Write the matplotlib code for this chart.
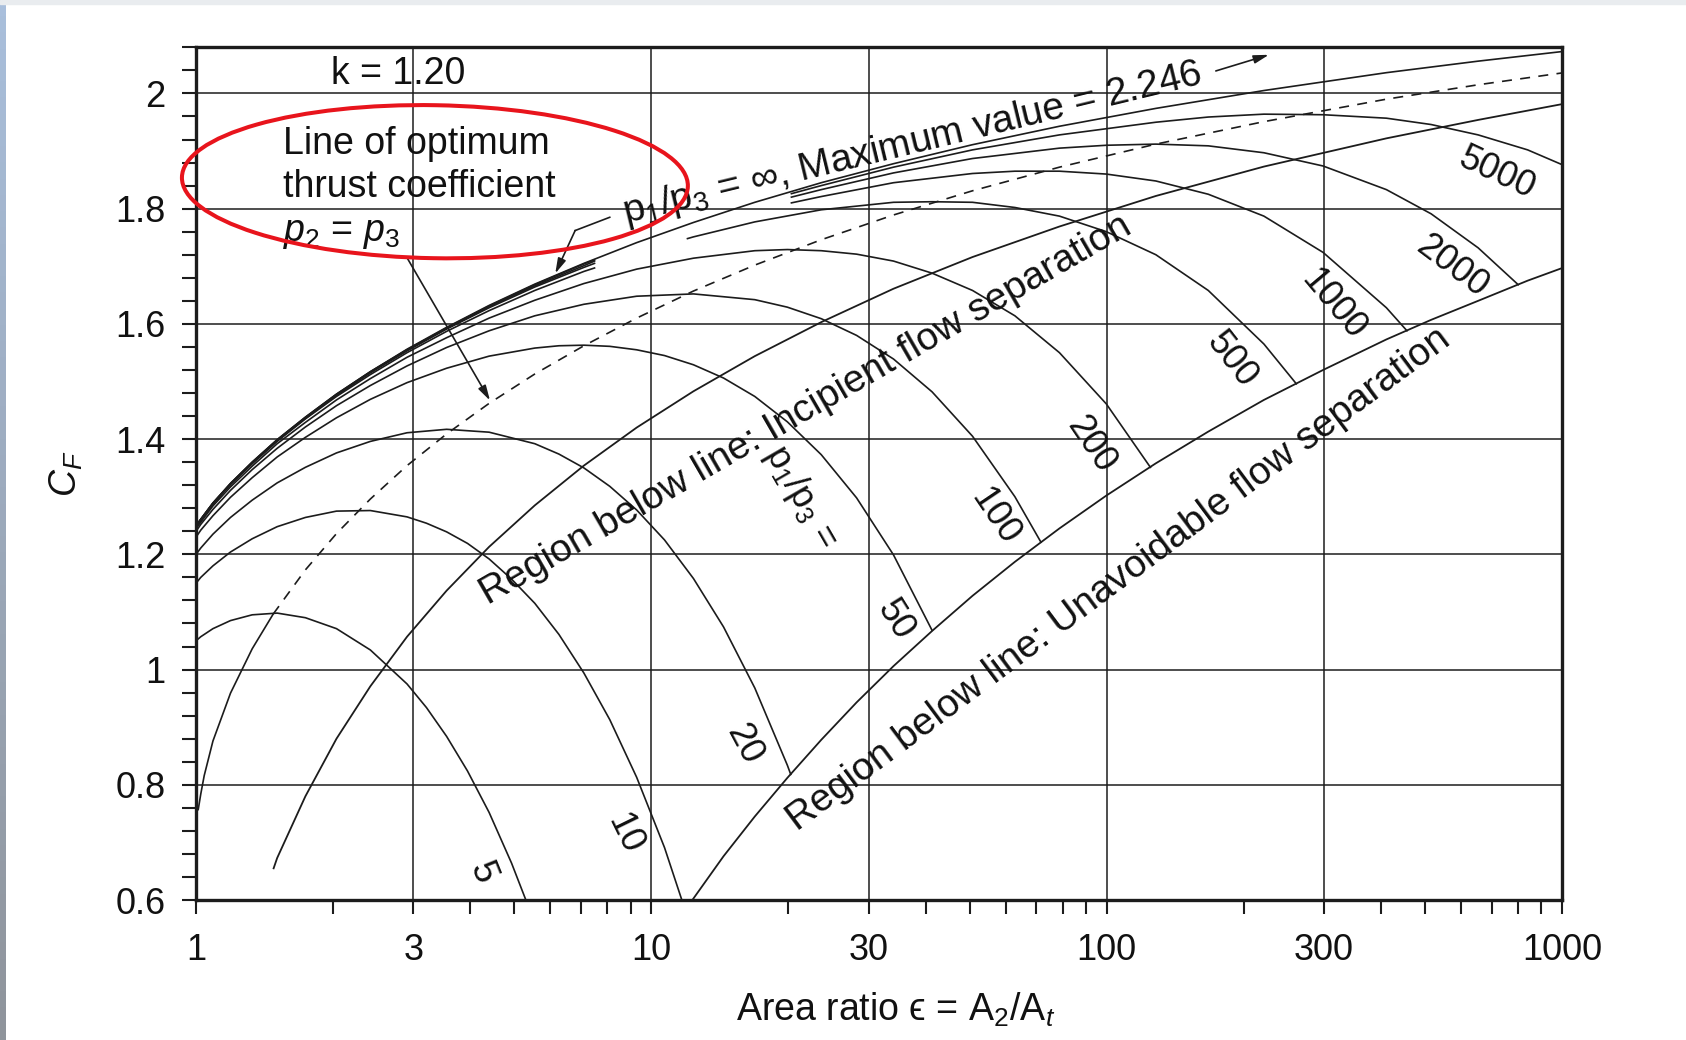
"""Thrust coefficient C_F versus nozzle area ratio for k = 1.20."""

import matplotlib.pyplot as plt
import matplotlib.patches as mpatches
import numpy as np

# (area ratio, C_F) points, one pair of lists per p1/p3
EPS_5 = [1.0, 1.024, 1.089, 1.190, 1.328, 1.507, 1.738, 2.034, 2.414, 2.906,
         3.206, 3.550, 3.945, 4.401, 4.930, 5.545]
CF_5 = [1.050, 1.057, 1.071, 1.085, 1.095, 1.098, 1.090, 1.071, 1.034, 0.975,
        0.934, 0.884, 0.824, 0.752, 0.664, 0.560]

EPS_10 = [1.0, 1.024, 1.089, 1.190, 1.328, 1.507, 1.738, 2.034, 2.414, 2.906,
          3.206, 3.550, 3.945, 4.401, 4.930, 5.545, 6.264, 7.107, 8.102, 9.281,
          10.685, 12.369]
CF_10 = [1.150, 1.160, 1.180, 1.204, 1.227, 1.248, 1.264, 1.275, 1.276, 1.265,
         1.254, 1.239, 1.219, 1.192, 1.157, 1.115, 1.061, 0.994, 0.913, 0.813,
         0.691, 0.539]

EPS_20 = [1.0, 1.024, 1.089, 1.190, 1.328, 1.507, 1.738, 2.034, 2.414, 2.906,
          3.550, 4.401, 5.545, 6.264, 7.107, 8.102, 9.281, 10.685, 12.369,
          14.401, 16.868, 19.885, 20.23]
CF_20 = [1.200, 1.211, 1.235, 1.264, 1.294, 1.324, 1.351, 1.376, 1.396, 1.411,
         1.417, 1.412, 1.392, 1.374, 1.350, 1.318, 1.277, 1.225, 1.158,
         1.074, 0.968, 0.834, 0.818]

EPS_50 = [1.0, 1.024, 1.089, 1.190, 1.328, 1.507, 1.738, 2.034, 2.414, 2.906,
          3.550, 4.401, 5.545, 6.264, 7.107, 8.102, 9.281, 10.685, 12.369,
          14.401, 16.868, 19.885, 23.603, 28.223, 34.015, 41.344]
CF_50 = [1.230, 1.242, 1.267, 1.299, 1.333, 1.369, 1.403, 1.437, 1.469, 1.498,
         1.523, 1.544, 1.558, 1.562, 1.563, 1.561, 1.555, 1.545, 1.529,
         1.506, 1.474, 1.430, 1.373, 1.298, 1.199, 1.068]

EPS_100 = [1.0, 1.024, 1.089, 1.190, 1.328, 1.507, 1.738, 2.034, 2.414, 2.906,
           3.550, 4.401, 5.545, 7.107, 9.281, 12.369, 16.868, 19.885, 23.603,
           28.223, 34.015, 41.344, 50.72, 62.846, 71.7]
CF_100 = [1.240, 1.252, 1.278, 1.311, 1.347, 1.384, 1.421, 1.458, 1.493, 1.527,
          1.559, 1.588, 1.614, 1.634, 1.648, 1.652, 1.642, 1.629, 1.609,
          1.580, 1.539, 1.482, 1.405, 1.300, 1.221]

EPS_200 = [1.0, 1.089, 1.190, 1.328, 1.507, 1.738, 2.034, 2.414, 2.906, 3.550,
           4.401, 5.545, 7.107, 9.281, 12.369, 16.868, 19.885, 23.603, 28.223,
           34.015, 41.344, 50.72, 62.846, 78.73, 99.80, 124.7]
CF_200 = [1.245, 1.284, 1.317, 1.353, 1.392, 1.429, 1.468, 1.505, 1.542, 1.576,
          1.610, 1.641, 1.670, 1.695, 1.714, 1.727, 1.729, 1.727, 1.721,
          1.709, 1.688, 1.658, 1.614, 1.550, 1.461, 1.351]

EPS_500 = [1.0, 1.089, 1.190, 1.328, 1.507, 1.738, 2.034, 2.414, 2.906, 3.550,
           4.401, 5.545, 7.107, 7.5, 9.281, 12.0, 12.369, 16.868, 23.603,
           34.015, 41.344, 50.72, 62.846, 78.73, 99.80, 128.2, 167.09, 221.4,
           260.8]
CF_500 = [1.248, 1.287, 1.321, 1.357, 1.396, 1.435, 1.474, 1.512, 1.550, 1.587,
          1.623, 1.658, 1.691, 1.697, 1.722, 1.748, 1.751, 1.777, 1.798,
          1.811, 1.812, 1.811, 1.802, 1.787, 1.760, 1.720, 1.658, 1.565,
          1.496]

EPS_1000 = [1.0, 1.089, 1.190, 1.328, 1.507, 1.738, 2.034, 2.414, 2.906, 3.550,
            4.401, 5.545, 7.107, 7.5, 9.281, 12.369, 16.868, 20.3, 23.603,
            34.015, 50.72, 62.846, 78.73, 99.80, 128.2, 167.09, 221.4, 298.65,
            411.3, 456.4]
CF_1000 = [1.249, 1.288, 1.322, 1.359, 1.398, 1.436, 1.476, 1.515, 1.553, 1.591,
           1.628, 1.664, 1.698, 1.705, 1.732, 1.764, 1.794, 1.810, 1.821,
           1.845, 1.861, 1.865, 1.865, 1.860, 1.848, 1.825, 1.787, 1.724,
           1.628, 1.588]

EPS_2000 = [1.0, 1.089, 1.190, 1.328, 1.507, 1.738, 2.034, 2.414, 2.906, 3.550,
            4.401, 5.545, 7.107, 7.5, 9.281, 12.369, 16.868, 20.3, 23.603,
            34.015, 50.72, 78.73, 99.80, 128.2, 167.09, 221.4, 298.65, 411.3,
            515.74, 654.1, 801.0]
CF_2000 = [1.250, 1.289, 1.322, 1.359, 1.398, 1.437, 1.477, 1.516, 1.555, 1.592,
           1.630, 1.666, 1.701, 1.709, 1.736, 1.770, 1.803, 1.820, 1.833,
           1.862, 1.887, 1.905, 1.910, 1.912, 1.909, 1.897, 1.874, 1.833,
           1.791, 1.732, 1.668]

EPS_5000 = [1.0, 1.089, 1.190, 1.328, 1.507, 1.738, 2.034, 2.414, 2.906, 3.550,
            4.401, 5.545, 7.107, 7.5, 9.281, 12.369, 16.868, 20.3, 23.603,
            34.015, 50.72, 78.73, 128.2, 167.09, 221.4, 298.65, 411.3, 515.74,
            654.1, 840.1, 1009.2]
CF_5000 = [1.250, 1.289, 1.323, 1.360, 1.399, 1.438, 1.478, 1.517, 1.555, 1.593,
           1.631, 1.668, 1.704, 1.711, 1.739, 1.774, 1.808, 1.826, 1.840,
           1.872, 1.902, 1.928, 1.950, 1.959, 1.964, 1.963, 1.957, 1.946,
           1.928, 1.902, 1.875]

EPS_INF = [1.0, 1.089, 1.190, 1.328, 1.507, 1.738, 2.034, 2.414, 2.906, 3.550,
           4.401, 5.545, 7.107, 9.281, 12.369, 16.868, 23.603, 34.015, 50.72,
           78.73, 128.2, 221.4, 298.65, 411.3, 654.1, 1009.2]
CF_INF = [1.250, 1.289, 1.323, 1.360, 1.399, 1.438, 1.478, 1.517, 1.556, 1.594,
          1.632, 1.669, 1.705, 1.741, 1.776, 1.811, 1.845, 1.878, 1.911,
          1.943, 1.974, 2.005, 2.020, 2.036, 2.056, 2.073]

RATIO_LABELS = ["5", "10", "20", "50", "100", "200", "500", "1000", "2000", "5000"]

# line of optimum thrust coefficient (p2 = p3): solid low part, dashed above
EPS_OPT_LOW = [1.0109, 1.024, 1.042, 1.089, 1.190, 1.328, 1.476]
CF_OPT_LOW = [0.757, 0.784, 0.816, 0.876, 0.959, 1.036, 1.096]
EPS_OPT = [1.476, 1.738, 2.034, 2.414, 2.906, 3.550, 4.401, 5.545, 7.107,
           9.281, 12.369, 16.868, 23.603, 34.015, 50.72, 78.73, 128.2, 221.4,
           411.3, 654.1, 1009.2]
CF_OPT = [1.096, 1.173, 1.236, 1.296, 1.354, 1.409, 1.462, 1.513, 1.562,
          1.610, 1.657, 1.702, 1.746, 1.789, 1.831, 1.872, 1.912, 1.951,
          1.990, 2.015, 2.036]

# separation boundaries
EPS_INCIPIENT = [1.48, 1.507, 1.738, 2.034, 2.414, 2.906, 3.550, 4.401, 5.545,
                 7.107, 9.281, 12.369, 16.868, 23.603, 34.015, 50.72, 78.73,
                 128.2, 221.4, 411.3, 654.1, 1009.2]
CF_INCIPIENT = [0.655, 0.673, 0.780, 0.880, 0.971, 1.057, 1.137, 1.213, 1.285,
                1.354, 1.420, 1.483, 1.544, 1.603, 1.661, 1.716, 1.769,
                1.822, 1.873, 1.922, 1.954, 1.982]
EPS_UNAVOIDABLE = [12.3, 14.401, 16.868, 19.885, 23.603, 28.223, 34.015,
                   41.344, 50.72, 62.846, 78.73, 99.80, 128.2, 167.09, 221.4,
                   298.65, 411.3, 515.74, 654.1, 840.1, 1009.2]
CF_UNAVOIDABLE = [0.600, 0.676, 0.745, 0.812, 0.878, 0.943, 1.006, 1.067,
                  1.128, 1.187, 1.245, 1.302, 1.358, 1.413, 1.468, 1.520,
                  1.573, 1.607, 1.640, 1.675, 1.698]

X_TICKS = [1, 3, 10, 30, 100, 300, 1000]
X_TICK_LABELS = ["1", "3", "10", "30", "100", "300", "1000"]
Y_TICKS = [0.6, 0.8, 1.0, 1.2, 1.4, 1.6, 1.8, 2.0]
Y_TICK_LABELS = ["0.6", "0.8", "1", "1.2", "1.4", "1.6", "1.8", "2"]

INK = "#1c1c1c"
RED = "#e8141c"

# stretches of the upper curves left blank under the "p1/p3 = inf" note
GAP_500 = (7.5, 12.0)
GAP_HIGH = (7.5, 20.3)

plt.rcParams["font.family"] = ["Liberation Sans", "DejaVu Sans"]
plt.rcParams["mathtext.fontset"] = "custom"
plt.rcParams["mathtext.rm"] = "Liberation Sans"
plt.rcParams["mathtext.it"] = "Liberation Sans:italic"
plt.rcParams["mathtext.bf"] = "Liberation Sans:bold"


def _with_gap(eps, cf, gap):
    eps = np.asarray(eps, dtype=float)
    cf = np.asarray(cf, dtype=float).copy()
    if gap is not None:
        cf[(eps > gap[0]) & (eps < gap[1])] = np.nan
    return eps, cf


fig = plt.figure(figsize=(16.86, 10.40), dpi=100)
fig.patch.set_facecolor("white")

# slide-style edge strips of the screenshot
edge = fig.add_axes([0, 0, 6 / 1686, 1])
edge.imshow(np.linspace(0, 1, 64).reshape(-1, 1), aspect="auto",
            cmap=plt.matplotlib.colors.LinearSegmentedColormap.from_list(
                "edge", ["#a9bfdc", "#8f949b"]), extent=(0, 1, 0, 1))
edge.set_axis_off()
fig.patches.append(mpatches.Rectangle((0, 1 - 4 / 1040), 1, 4 / 1040,
                                      transform=fig.transFigure,
                                      color="#e9ecef", zorder=0))

ax = fig.add_axes([0.1163, 0.1346, 0.8102, 0.8199])
ax.set_xscale("log")
ax.set_xlim(1, 1000)
ax.set_ylim(0.6, 2.079)

curves = [(EPS_5, CF_5, None), (EPS_10, CF_10, None), (EPS_20, CF_20, None),
          (EPS_50, CF_50, None), (EPS_100, CF_100, None),
          (EPS_200, CF_200, None), (EPS_500, CF_500, GAP_500),
          (EPS_1000, CF_1000, GAP_HIGH), (EPS_2000, CF_2000, GAP_HIGH),
          (EPS_5000, CF_5000, GAP_HIGH), (EPS_INF, CF_INF, None)]
for eps, cf, gap in curves:
    ax.plot(*_with_gap(eps, cf, gap), color=INK, lw=1.2, zorder=3)

ax.plot(EPS_OPT_LOW, CF_OPT_LOW, color=INK, lw=1.2, zorder=3)
ax.plot(EPS_OPT, CF_OPT, color=INK, lw=1.2, ls=(0, (6, 5)), zorder=3)
ax.plot(EPS_INCIPIENT, CF_INCIPIENT, color=INK, lw=1.3, zorder=3)
ax.plot(EPS_UNAVOIDABLE, CF_UNAVOIDABLE, color=INK, lw=1.3, zorder=3)

# axes, ticks, grid
ax.set_xticks(X_TICKS)
ax.set_xticklabels(X_TICK_LABELS)
minor_x = [m * d for d in (1, 10, 100) for m in (2, 4, 5, 6, 7, 8, 9)]
ax.set_xticks(minor_x, minor=True)
ax.set_xticklabels([], minor=True)
ax.set_yticks(Y_TICKS)
ax.set_yticklabels(Y_TICK_LABELS)
minor_y = [v for v in np.round(np.arange(0.64, 2.081, 0.04), 2)
           if not np.isclose(v % 0.2, 0) and not np.isclose(v % 0.2, 0.2)]
ax.set_yticks(minor_y, minor=True)

ax.tick_params(which="both", direction="out", length=10, width=1.5,
               color=INK, labelsize=26, labelcolor="#111111")
ax.tick_params(axis="x", pad=14)
ax.tick_params(axis="y", pad=12)
ax.grid(which="major", color=INK, lw=1.1, zorder=1)
for side in ("left", "bottom", "top", "right"):
    ax.spines[side].set_linewidth(2.4)
    ax.spines[side].set_color(INK)

ax.set_xlabel("Area ratio ϵ = A$_2$/A$_t$", fontsize=27, color="#111111")
ax.xaxis.set_label_coords(0.512, -0.106)
ax.set_ylabel("$C_F$", fontsize=27, color="#111111")
ax.yaxis.set_label_coords(-0.081, 0.5)

# texts
text_kw = dict(fontsize=27, color="#111111", zorder=4)
ax.text(2.78, 2.034, "k = 1.20", ha="center", va="center", **text_kw)
ax.text(1.553, 1.912, "Line of optimum", ha="left", va="center", **text_kw)
ax.text(1.553, 1.838, "thrust coefficient", ha="left", va="center", **text_kw)
ax.text(1.553, 1.758, "$p_2$ = $p_3$", ha="left", va="center", **text_kw)

label_pos = [(4.25, 0.648, -68), (8.71, 0.715, -64), (15.98, 0.870, -62),
             (34.3, 1.086, -58), (56.9, 1.266, -56), (92.4, 1.391, -56),
             (187.6, 1.537, -52), (314.4, 1.634, -50), (573.6, 1.700, -37),
             (720.0, 1.862, -25)]
for text, (x, y, rot) in zip(RATIO_LABELS, label_pos):
    ax.text(x, y, text, rotation=rot, rotation_mode="anchor",
            ha="center", va="center", fontsize=26, color="#111111", zorder=4)

big_kw = dict(fontsize=28, color="#111111", zorder=4)
ax.text(21.3, 1.300, "p$_1$/p$_3$ =", rotation=-60, rotation_mode="anchor",
        ha="center", va="center", fontsize=26, color="#111111", zorder=4)
ax.text(21.8, 1.450, "Region below line: Incipient flow separation",
        rotation=30, rotation_mode="anchor", ha="center", va="center", **big_kw)
ax.text(106.5, 1.157, "Region below line: Unavoidable flow separation",
        rotation=36.7, rotation_mode="anchor", ha="center", va="center",
        **big_kw)
ax.text(37.4, 1.912, "p$_1$/p$_3$ = ∞, Maximum value = 2.246",
        rotation=13.6, rotation_mode="anchor", ha="center", va="center",
        **big_kw)

arrow_kw = dict(arrowstyle="-|>,head_length=0.9,head_width=0.25",
                color=INK, lw=1.2, shrinkA=0, shrinkB=0)
ax.annotate("", xy=(227, 2.067), xytext=(173.6, 2.039), arrowprops=arrow_kw)
ax.plot([8.10, 6.80], [1.785, 1.762], color=INK, lw=1.2, zorder=4)
ax.annotate("", xy=(6.15, 1.6875), xytext=(6.80, 1.762), arrowprops=arrow_kw)
ax.annotate("", xy=(4.42, 1.467), xytext=(2.90, 1.716), arrowprops=arrow_kw)

# red highlight ring around the optimum-line note
ring = mpatches.Ellipse((4.349, 8.583), 5.06, 1.53, angle=-1.0,
                        transform=fig.dpi_scale_trans, fill=False,
                        ec=RED, lw=2.9, zorder=10)
fig.patches.append(ring)

fig.savefig("out.png", dpi=100, facecolor=fig.get_facecolor())
